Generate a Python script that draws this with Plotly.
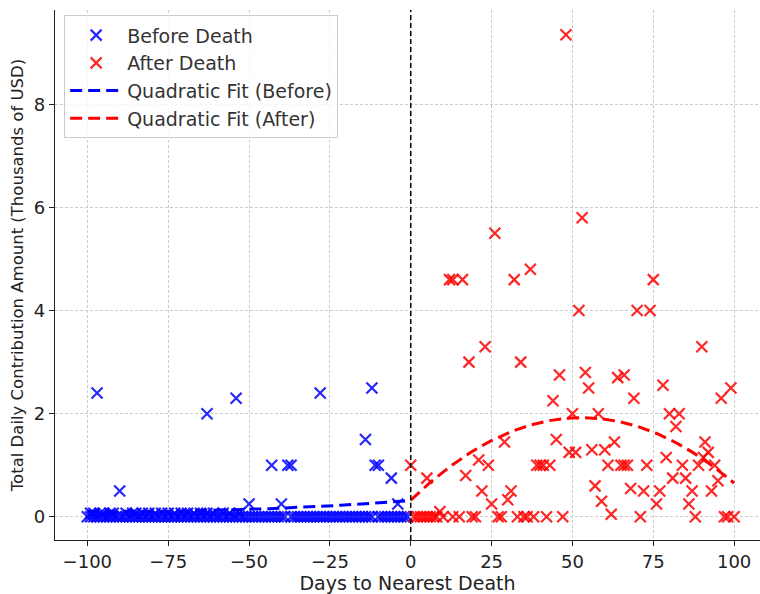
import numpy as np
import plotly.graph_objects as go

# ---------------- data ----------------
before_days = [
    -100, -99, -98, -97, -96, -95, -94, -93, -92, -91, -90, -89, -88, -87, -86, -85, -84, -83, -82, -81,
    -80, -79, -78, -77, -76, -75, -74, -73, -72, -71, -70, -69, -68, -67, -66, -65, -64, -63, -62, -61,
    -60, -59, -58, -57, -56, -55, -54, -53, -52, -51, -50, -49, -48, -47, -46, -45, -44, -43, -42, -41,
    -40, -39, -37, -36, -35, -34, -33, -32, -31, -30, -29, -28, -27, -26, -25, -24, -23, -22, -21,
    -20, -19, -18, -17, -16, -15, -14, -13, -12, -10, -9, -8, -7, -6, -5, -4, -3, -2, -1,
    -99, -98, -96, -95, -93, -92, -88, -86, -85, -83, -81, -79, -77, -75, -73, -71, -69, -67, -65,
    -63, -61, -58, -56, -53,
    -97, -90, -63, -54, -50, -43, -40, -38, -37, -28, -14, -12, -11, -10, -6, -4,
]
before_amounts = [
    0, 0, 0, 0, 0, 0, 0, 0, 0, 0, 0, 0, 0, 0, 0, 0, 0, 0, 0, 0,
    0, 0, 0, 0, 0, 0, 0, 0, 0, 0, 0, 0, 0, 0, 0, 0, 0, 0, 0, 0,
    0, 0, 0, 0, 0, 0, 0, 0, 0, 0, 0, 0, 0, 0, 0, 0, 0, 0, 0, 0,
    0, 0, 0, 0, 0, 0, 0, 0, 0, 0, 0, 0, 0, 0, 0, 0, 0, 0, 0,
    0, 0, 0, 0, 0, 0, 0, 0, 0, 0, 0, 0, 0, 0, 0, 0, 0, 0, 0,
    0.07, 0.07, 0.07, 0.07, 0.07, 0.07, 0.07, 0.07, 0.07, 0.07, 0.07, 0.07, 0.07, 0.07, 0.07, 0.07, 0.07, 0.07, 0.07,
    0.07, 0.07, 0.07, 0.07, 0.07,
    2.4, 0.5, 2.0, 2.3, 0.25, 1.0, 0.25, 1.0, 1.0, 2.4, 1.5, 2.5, 1.0, 1.0, 0.75, 0.25,
]

after_days = [
    0, 1, 2, 3, 4, 5, 5, 6, 7, 8, 9, 10, 12, 13, 13, 15, 16, 17, 18, 19,
    20, 21, 22, 23, 24, 25, 26, 27, 28, 29, 30, 31, 32, 33, 34, 35, 36, 37, 38, 39,
    40, 41, 43, 42, 44, 45, 46, 47, 48, 49, 50, 51, 52, 53, 54, 55, 56, 57, 58, 59,
    60, 61, 62, 63, 64, 65, 66, 66, 67, 68, 69, 70, 71, 72, 73, 74, 75, 76, 77, 78,
    79, 80, 81, 82, 83, 84, 85, 86, 87, 88, 89, 90, 90.5, 91, 92, 93, 94, 95, 96, 97,
    98, 99, 100,
]
after_amounts = [
    1.0, 0, 0, 0, 0, 0.75, 0, 0, 0, 0, 0.1, 0, 4.6, 4.6, 0, 0, 4.6, 0.8, 3.0, 0,
    0, 1.1, 0.5, 3.3, 1.0, 0.25, 5.5, 0, 0, 1.45, 0.33, 0.5, 4.6, 0, 3.0, 0, 0, 4.8, 0, 1.0,
    1.0, 1.0, 1.0, 0, 2.25, 1.5, 2.75, 0, 9.35, 1.25, 2.0, 1.25, 4.0, 5.8, 2.8, 2.5, 1.3, 0.6, 2.0, 0.3,
    1.3, 1.0, 0.05, 1.45, 2.7, 1.0, 2.75, 1.0, 1.0, 0.55, 2.3, 4.0, 0, 0.5, 1.0, 4.0, 4.6, 0.25, 0.5, 2.55,
    1.15, 2.0, 0.75, 1.75, 2.0, 1.0, 0.75, 0.25, 0.5, 0, 1.0, 3.3, 1.15, 1.45, 1.25, 0.5, 1.0, 0.7, 2.3, 0,
    0, 2.5, 0,
]

x_ticks = [-100, -75, -50, -25, 0, 25, 50, 75, 100]
y_ticks = [0, 2, 4, 6, 8]
DEATH_DAY = 0

# ---------------- quadratic fits ----------------
cb = np.polyfit(before_days, before_amounts, 2)
ca = np.polyfit(after_days, after_amounts, 2)
xb = np.linspace(min(before_days), DEATH_DAY, 200)
xa = np.linspace(DEATH_DAY, max(after_days), 200)
yb = np.polyval(cb, xb)
ya = np.polyval(ca, xa)

FONT = "DejaVu Sans"
fig = go.Figure()
fig.add_trace(go.Scatter(
    x=before_days, y=before_amounts, mode="markers", name="Before Death",
    marker=dict(symbol="x-thin", size=11, color="rgba(0,0,255,0.85)",
                line=dict(width=2.2, color="rgba(0,0,255,0.85)")),
))
fig.add_trace(go.Scatter(
    x=after_days, y=after_amounts, mode="markers", name="After Death",
    marker=dict(symbol="x-thin", size=11, color="rgba(255,0,0,0.85)",
                line=dict(width=2.2, color="rgba(255,0,0,0.85)")),
))
fig.add_trace(go.Scatter(
    x=xb, y=yb, mode="lines", name="Quadratic Fit (Before)",
    line=dict(color="blue", width=3, dash="12px,6px"),
))
fig.add_trace(go.Scatter(
    x=xa, y=ya, mode="lines", name="Quadratic Fit (After)",
    line=dict(color="red", width=3, dash="12px,6px"),
))

fig.add_shape(type="line", xref="x", yref="paper", x0=DEATH_DAY, x1=DEATH_DAY, y0=0, y1=1,
              line=dict(color="black", width=1.5, dash="5px,3px"), layer="above")

fig.update_layout(
    width=760, height=594,
    margin=dict(l=55, r=0, t=10, b=54),
    plot_bgcolor="white", paper_bgcolor="white",
    font=dict(family=FONT, size=18, color="#222"),
    showlegend=True,
    legend=dict(x=0.013, y=0.99, xanchor="left", yanchor="top",
                bgcolor="rgba(255,255,255,0.8)", bordercolor="#cccccc", borderwidth=1,
                itemwidth=52, tracegroupgap=0,
                font=dict(family=FONT, size=19, color="#333")),
)
fig.update_xaxes(
    range=[-110, 108], tickmode="array", tickvals=x_ticks,
    showgrid=True, gridcolor="#cccccc", griddash="3px,2px", gridwidth=1,
    zeroline=False, showline=True, linecolor="#222", linewidth=1.3,
    ticks="outside", ticklen=5, tickcolor="#222",
    tickfont=dict(family=FONT, size=18, color="#222"),
    title=dict(text="Days to Nearest Death", font=dict(family=FONT, size=19, color="#222"), standoff=2),
)
fig.update_yaxes(
    range=[-0.45, 9.83], tickmode="array", tickvals=y_ticks,
    showgrid=True, gridcolor="#cccccc", griddash="3px,2px", gridwidth=1,
    zeroline=False, showline=True, linecolor="#222", linewidth=1.3,
    ticks="outside", ticklen=5, tickcolor="#222",
    tickfont=dict(family=FONT, size=18, color="#222"),
    title=dict(text="Total Daily Contribution Amount (Thousands of USD)",
               font=dict(family=FONT, size=16.5, color="#222"), standoff=6),
)

fig.write_html("out.html")
